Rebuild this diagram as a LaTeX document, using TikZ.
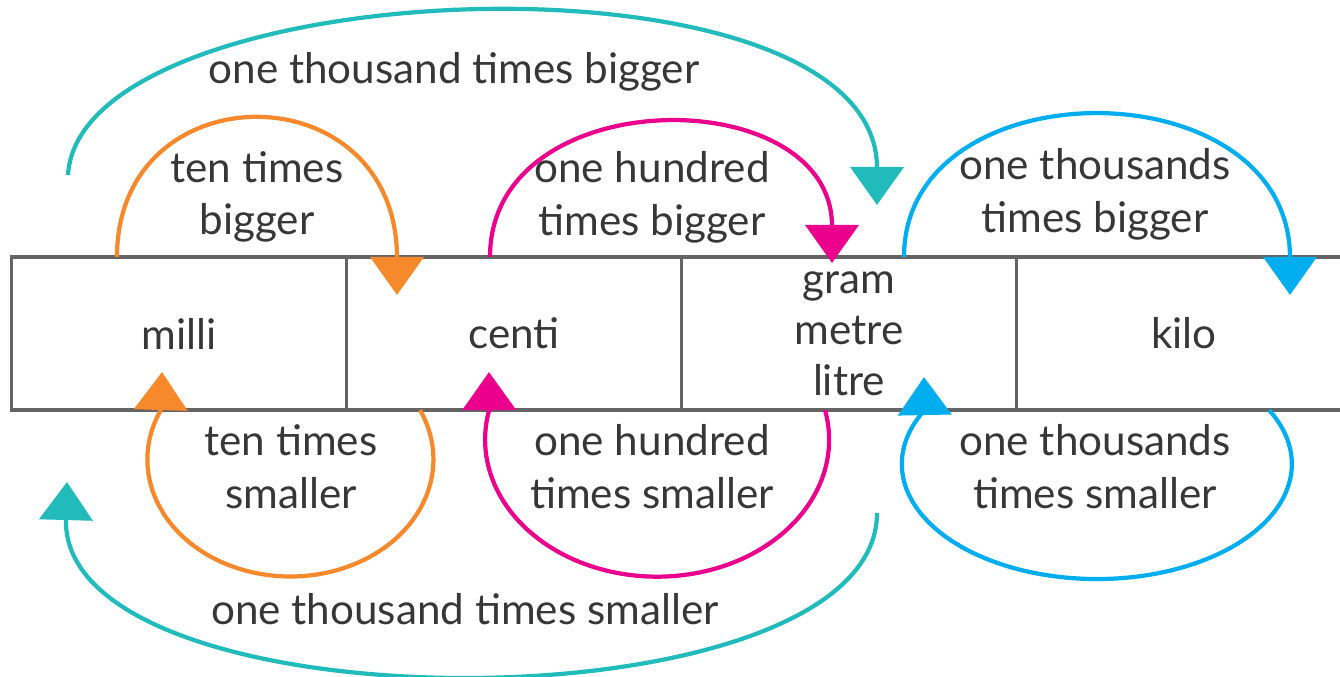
\documentclass[tikz,border=0pt]{standalone}
\usepackage{fontspec}
\setmainfont{Lato}
\usetikzlibrary{arrows.meta,calc}
\definecolor{tealarc}{RGB}{32,187,186}
\definecolor{orangearc}{RGB}{245,137,43}
\definecolor{pinkarc}{RGB}{234,0,140}
\definecolor{bluearc}{RGB}{0,174,239}
\definecolor{boxgrey}{RGB}{100,100,100}
\definecolor{textgrey}{RGB}{55,55,55}

\begin{document}
\begin{tikzpicture}[x=0.01cm, y=-0.01cm,
    cell/.style={draw=boxgrey, line width=1pt, minimum width=3.35cm, minimum height=1.53cm,
      inner sep=0pt, outer sep=0pt, text=textgrey, font=\fontsize{12}{14.5}\selectfont, align=center},
    lbl/.style={text=textgrey, font=\fontsize{12}{15}\selectfont, align=center, inner sep=0pt},
    jump/.style={line width=1.2pt, -{Triangle[length=0.38cm,width=0.53cm]}}]
              \useasboundingbox (0,0) rectangle (1340,677);
              \node[cell] (milli) at (179,333.5) {milli};
              \node[cell] (centi) at (514,333.5) {centi};
              \node[cell] (gram) at (849,333.5) {gram\\metre\\litre};
              \node[cell] (kilo) at (1184,333.5) {kilo};
              \node[lbl] (bigthou) at (454,72) {one thousand times bigger};
              \node[lbl] (bigten) at (257,197) {ten times\\bigger};
              \node[lbl] (bighun) at (652,197) {one hundred\\times bigger};
              \node[lbl] (bigthous) at (1095,194) {one thousands\\times bigger};
              \node[lbl] (smallten) at (291,467) {ten times\\smaller};
              \node[lbl] (smallhun) at (652,467) {one hundred\\times smaller};
              \node[lbl] (smallthous) at (1095,467) {one thousands\\times smaller};
              \node[lbl] (smallthou) at (465,609) {one thousand times smaller};
              \coordinate (tealtop) at (68,175);
              \coordinate (tealbot) at (877,513);
              % above the row
              \draw[jump, tealarc] (tealtop) .. controls +(12,-205) and +(0,-265) .. ($(gram.north)+(28,-52)$);
              \draw[jump, orangearc] ($(milli.north)+(-62,0)$) .. controls +(0,-187) and +(0,-225) .. ($(centi.north)+(-117,38)$);
              \draw[jump, pinkarc] ($(centi.north)+(-24,0)$) .. controls +(0,-177) and +(0,-183) .. ($(gram.north)+(-17,6)$);
              \draw[jump, bluearc] ($(gram.north)+(55,0)$) .. controls +(0,-192) and +(0,-230) .. ($(kilo.north)+(106,38)$);
              % below the row
              \draw[jump, orangearc] ($(centi.south)+(-94,0)$) arc[start angle=-25, end angle=205, x radius=143, y radius=117] -- ($(milli.south)+(-17,-38)$);
              \draw[jump, pinkarc] ($(gram.south)+(-24,0)$) arc[start angle=-12.5, end angle=192.5, x radius=172, y radius=137] -- ($(centi.south)+(-25,-38)$);
              \draw[jump, bluearc] ($(kilo.south)+(85,0)$) arc[start angle=-28, end angle=208, x radius=195, y radius=115] -- ($(gram.south)+(75,-33)$);
              \draw[jump, tealarc] (tealbot) .. controls +(0,219) and +(-7,250) .. ($(milli.south)+(-112,72)$);
            \end{tikzpicture}
\end{document}
